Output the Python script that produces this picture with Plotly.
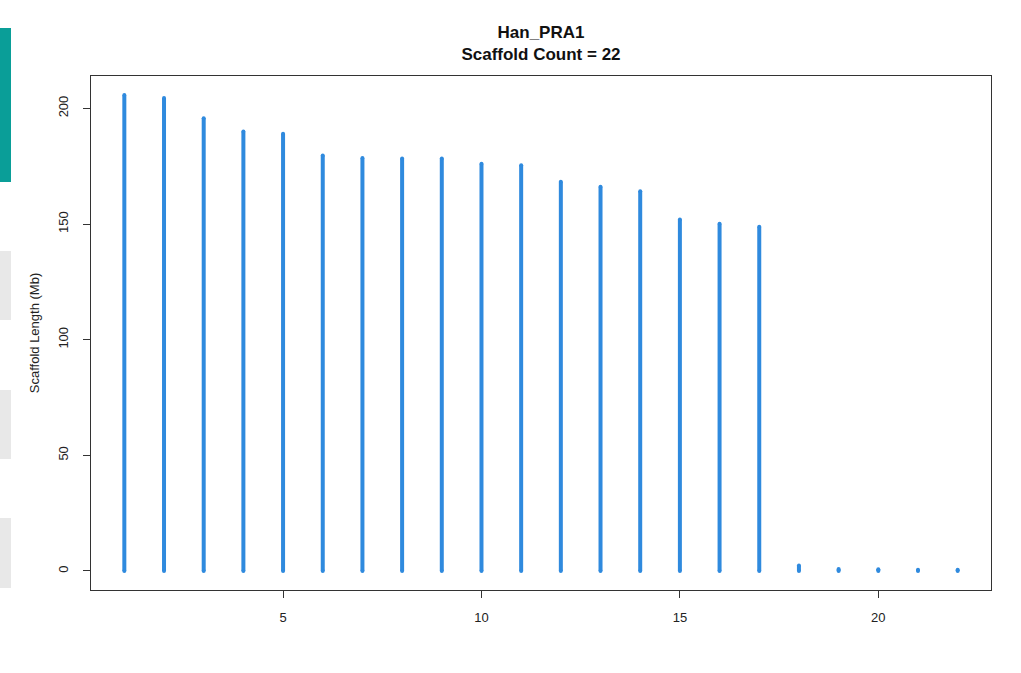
import plotly.graph_objects as go

scaffold_index = list(range(1, 23))
scaffold_length_mb = [205.8, 204.5, 195.8, 190.0, 189.1, 179.7, 178.6, 178.4, 178.4,
                      176.1, 175.4, 168.3, 166.1, 164.2, 152.0, 150.1, 148.8,
                      2.4, 0.8, 0.7, 0.5, 0.5]
x_ticks = [5, 10, 15, 20]
y_ticks = [0, 50, 100, 150, 200]
title_lines = ["Han_PRA1", "Scaffold Count = 22"]
y_title = "Scaffold Length (Mb)"

# build R type="h" style vertical segments
xs, ys = [], []
for xi, yi in zip(scaffold_index, scaffold_length_mb):
    xs += [xi, xi, None]
    ys += [0, yi, None]

BLUE = "#2f8ade"
fig = go.Figure()
fig.add_trace(go.Scatter(x=xs, y=ys, mode="lines",
                         line=dict(color=BLUE, width=4), hoverinfo="skip",
                         showlegend=False))
# round-cap look: small markers at ends
fig.add_trace(go.Scatter(x=scaffold_index, y=scaffold_length_mb, mode="markers",
                         marker=dict(color=BLUE, size=4, line=dict(width=0)),
                         showlegend=False))
fig.add_trace(go.Scatter(x=scaffold_index, y=[0] * len(scaffold_index), mode="markers",
                         marker=dict(color=BLUE, size=4, line=dict(width=0)),
                         showlegend=False))

n = len(scaffold_index)
xmin, xmax = 1, n
xpad = (xmax - xmin) * 0.04
ymax = max(scaffold_length_mb)
ypad = ymax * 0.04

font = "Liberation Sans, Arial, sans-serif"
fig.update_layout(
    width=1021, height=673,
    margin=dict(l=91, r=30, t=76, b=83),
    paper_bgcolor="white", plot_bgcolor="white",
    font=dict(family=font, size=13, color="#222"),
    title=dict(text="<b>" + "<br>".join(title_lines) + "</b>",
               x=(91 + 450) / 1021, xanchor="center", y=1 - 38 / 673, yanchor="middle",
               font=dict(family=font, size=17, color="#111")),
    xaxis=dict(range=[xmin - xpad, xmax + xpad], tickvals=x_ticks,
               ticks="outside", ticklen=7, tickcolor="#333", tickwidth=1,
               ticklabelstandoff=8,
               showgrid=False, zeroline=False, showline=True, linecolor="#333",
               linewidth=1, mirror=True, tickfont=dict(size=13, color="#222")),
    yaxis=dict(range=[-ypad, ymax + ypad], tickvals=y_ticks, tickangle=-90,
               ticks="outside", ticklen=7, tickcolor="#333", tickwidth=1,
               ticklabelstandoff=10,
               showgrid=False, zeroline=False, showline=True, linecolor="#333",
               linewidth=1, mirror=True, tickfont=dict(size=13, color="#222"),
               title=dict(text=y_title, standoff=13, font=dict(size=13, color="#222"))),
)

# page decorations at left edge (in pixels converted to paper coords)
W, H = 900, 514
def px(xp):
    return (xp - 91) / W
def py(yp):
    return 1 - (yp - 76) / H
fig.add_shape(type="rect", xref="paper", yref="paper", x0=px(0), x1=px(11),
              y0=py(182), y1=py(28), fillcolor="#0a9e98", line=dict(width=0), layer="below")
for y0, y1 in [(251, 320), (390, 459), (518, 588)]:
    fig.add_shape(type="rect", xref="paper", yref="paper", x0=px(0), x1=px(11),
                  y0=py(y1), y1=py(y0), fillcolor="#e8e8e8", line=dict(width=0), layer="below")

fig.write_html("out.html", config={"displayModeBar": False},
               post_script="document.body.style.margin='0';")
